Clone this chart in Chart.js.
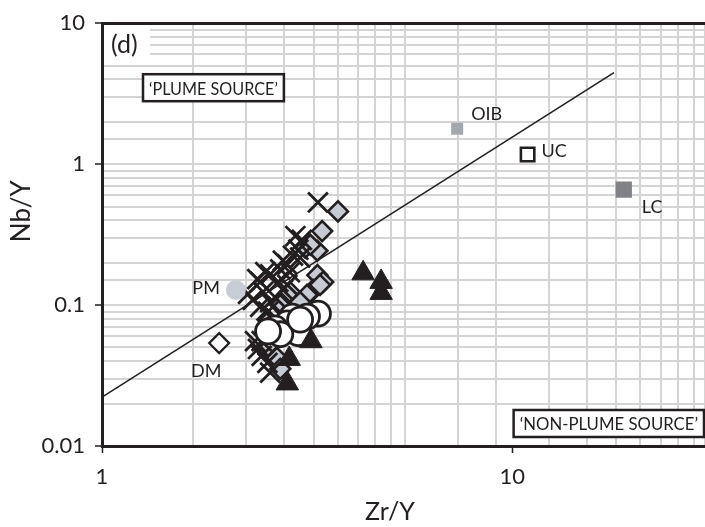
<!DOCTYPE html>
<html>
<head>
<meta charset="utf-8">
<script src="https://cdn.jsdelivr.net/npm/chart.js@4/dist/chart.umd.min.js"></script>
<style>html,body{margin:0;padding:0;background:#fff;overflow:hidden}</style>
</head>
<body>
<canvas id="chart" width="705" height="527"></canvas>
<script>
// samples: Zr/Y vs Nb/Y, one pair of arrays per symbol
var crossZr = [3.36,2.96,3.07,3.04,2.92,2.83,3.01,2.72,2.57,2.43,2.50,2.69,2.83,2.47,2.33,2.39,2.27,2.57,2.43,2.64,2.76,2.36,2.40,2.45,2.53,2.57,2.45,2.87,2.76,2.54,2.64];
var crossNb = [0.535,0.309,0.290,0.217,0.224,0.194,0.247,0.179,0.165,0.146,0.171,0.146,0.139,0.124,0.109,0.153,0.120,0.105,0.0973,0.114,0.128,0.0554,0.0488,0.0436,0.0389,0.0332,0.0554,0.171,0.207,0.0898,0.0789];

var diamondZr = [3.76,3.44,3.13,3.35,3.22,3.35,3.46,3.27,3.16,2.87,2.72,2.53,3.40,2.67,2.72,3.04,2.54];
var diamondNb = [0.462,0.335,0.255,0.243,0.268,0.163,0.146,0.128,0.118,0.124,0.100,0.0789,0.139,0.0422,0.0353,0.105,0.0512];

var circleZr = [3.36,3.16,2.91,2.83,2.64,3.01,2.72,2.54,3.04];
var circleNb = [0.0869,0.0828,0.0828,0.0741,0.0684,0.0631,0.0621,0.0651,0.0789];

var triangleZr = [4.33,4.79,4.79,3.23,2.86,2.83];
var triangleNb = [0.168,0.146,0.122,0.0554,0.0415,0.0278];

// reference compositions
var refNames = ['PM','DM','OIB','UC','LC'];
var refZr = [2.12,1.93,7.34,10.9,18.7];
var refNb = [0.128,0.0537,1.78,1.17,0.659];

// plume / non-plume divide
var divideZr = [1,17.7];
var divideNb = [0.0222,4.46];

var yTickLabels = ['0.01','0.1','1','10'];
var xTickLabels = ['1','10'];

var ink = '#231f20';
var gridColor = '#d4d4d4';
var fontFamily = 'Lato';

function pts(xs, ys) {
    return xs.map(function(x, i) { return {x: x, y: ys[i]}; });
}

function isDecade(v) {
    var l = Math.log10(v);
    return Math.abs(l - Math.round(l)) < 1e-6;
}

function tickText(list) {
    return function(v) {
        var s = String(Number(v.toPrecision(6)));
        return list.indexOf(s) >= 0 ? s : '';
    };
}

function decadeTickColor(c) {
    return c.tick && isDecade(c.tick.value) ? ink : 'rgba(0,0,0,0)';
}

// label offsets for the reference points [dx, dy, align]
var refLabelPos = {
    PM: [-16, -2, 'right'],
    DM: [-13, 28, 'center'],
    OIB: [14, -15, 'left'],
    UC: [14, -3, 'left'],
    LC: [18, 18, 'left']
};

function drawBox(ctx, text, x, y, alignRight, squeeze) {
    ctx.save();
    ctx.font = '18px ' + fontFamily;
    var w = ctx.measureText(text).width * squeeze + 12;
    var h = 27;
    var left = alignRight ? x - w : x;
    ctx.fillStyle = '#fff';
    ctx.fillRect(left, y, w, h);
    ctx.lineWidth = 2.5;
    ctx.strokeStyle = ink;
    ctx.strokeRect(left, y, w, h);
    ctx.translate(left + 6, y + h / 2 + 1);
    ctx.scale(squeeze, 1);
    ctx.fillStyle = ink;
    ctx.textAlign = 'left';
    ctx.textBaseline = 'middle';
    ctx.fillText(text, 0, 0);
    ctx.restore();
}

var annotations = {
    id: 'annotations',
    beforeDatasetsDraw: function(chart) {
        var ctx = chart.ctx, a = chart.chartArea, xs = chart.scales.x;
        ctx.save();
        ctx.fillStyle = '#fff';
        ctx.fillRect(a.left + 2, a.top + 3, 46, 38);
        ctx.fillStyle = ink;
        ctx.font = '25px ' + fontFamily;
        ctx.textBaseline = 'middle';
        ctx.textAlign = 'left';
        ctx.fillText('(d)', a.left + 9, a.top + 22);
        drawBox(ctx, '\u2018PLUME SOURCE\u2019', a.left + 41, a.top + 51, false, 0.9);
        drawBox(ctx, '\u2018NON-PLUME SOURCE\u2019', a.right - 1, a.bottom - 36, true, 0.93);
        ctx.fillStyle = ink;
        // x tick labels
        ctx.font = '22px ' + fontFamily;
        ctx.textAlign = 'center';
        ctx.textBaseline = 'top';
        xTickLabels.forEach(function(t) {
            ctx.fillText(t, xs.getPixelForValue(Number(t)), xs.top + 20);
        });
        // axis titles
        ctx.textBaseline = 'middle';
        ctx.font = '25px ' + fontFamily;
        ctx.fillText('Zr/Y', a.left + 288, xs.bottom - 15);
        ctx.translate(22, a.top + 188);
        ctx.rotate(-Math.PI / 2);
        ctx.font = '26px ' + fontFamily;
        ctx.fillText('Nb/Y', 0, 0);
        ctx.restore();
    },
    afterDatasetsDraw: function(chart) {
        var ctx = chart.ctx, xs = chart.scales.x, ys = chart.scales.y;
        ctx.save();
        ctx.fillStyle = ink;
        ctx.font = '18px ' + fontFamily;
        ctx.textBaseline = 'middle';
        refNames.forEach(function(name, i) {
            var p = refLabelPos[name];
            ctx.textAlign = p[2];
            ctx.fillText(name, xs.getPixelForValue(refZr[i]) + p[0], ys.getPixelForValue(refNb[i]) + p[1]);
        });
        ctx.restore();
    }
};

var ctx = document.getElementById('chart').getContext('2d');
var chart = new Chart(ctx, {
    type: 'scatter',
    data: {
        datasets: [
            {
                type: 'line', data: pts(divideZr, divideNb),
                borderColor: ink, borderWidth: 1.6, pointRadius: 0, fill: false, order: 9
            },
            {
                data: pts(diamondZr, diamondNb), pointStyle: 'rectRot', pointRadius: 10,
                backgroundColor: '#c6cad2', borderColor: ink, borderWidth: 2.6, order: 8
            },
            {
                data: pts(crossZr, crossNb), pointStyle: 'crossRot', pointRadius: 14,
                borderColor: ink, borderWidth: 2.8, order: 7
            },
            {
                data: pts(circleZr, circleNb), pointStyle: 'circle', pointRadius: 12.5,
                backgroundColor: '#fff', borderColor: ink, borderWidth: 2.8, order: 6
            },
            {
                data: pts(triangleZr, triangleNb), pointStyle: 'triangle', pointRadius: 13,
                backgroundColor: ink, borderColor: ink, borderWidth: 1, order: 5
            },
            // reference points
            {
                data: pts(refZr.slice(0, 1), refNb.slice(0, 1)), pointStyle: 'circle', pointRadius: 10,
                backgroundColor: '#c8ccd4', borderWidth: 0, order: 4
            },
            {
                data: pts(refZr.slice(1, 2), refNb.slice(1, 2)), pointStyle: 'rectRot', pointRadius: 10,
                backgroundColor: '#fff', borderColor: ink, borderWidth: 2.2, order: 4
            },
            {
                data: pts(refZr.slice(2, 3), refNb.slice(2, 3)), pointStyle: 'rect', pointRadius: 8.5,
                backgroundColor: '#a3a7ae', borderWidth: 0, order: 4
            },
            {
                data: pts(refZr.slice(3, 4), refNb.slice(3, 4)), pointStyle: 'rect', pointRadius: 9.5,
                backgroundColor: '#fff', borderColor: ink, borderWidth: 2.6, order: 4
            },
            {
                data: pts(refZr.slice(4, 5), refNb.slice(4, 5)), pointStyle: 'rect', pointRadius: 11.5,
                backgroundColor: '#808285', borderWidth: 0, order: 4
            }
        ]
    },
    options: {
        responsive: false,
        animation: false,
        devicePixelRatio: 1,
        layout: { autoPadding: false, padding: { top: 16, right: 0, left: 0, bottom: 0 } },
        plugins: { legend: { display: false }, tooltip: { enabled: false } },
        scales: {
            x: {
                type: 'logarithmic', position: 'bottom', min: 1, max: 29.5,
                afterFit: function(s) { s.height = 81; },
                border: { display: true, color: ink, width: 3 },
                grid: { drawOnChartArea: false, tickLength: 7, tickWidth: 1.5, tickColor: decadeTickColor },
                ticks: { display: false }
            },
            x2: {
                type: 'logarithmic', position: 'top', min: 1, max: 98,
                afterFit: function(s) { s.height = 0; },
                border: { display: true, color: ink, width: 3 },
                grid: { color: gridColor, lineWidth: 2, drawTicks: false },
                ticks: { display: false }
            },
            y: {
                type: 'logarithmic', position: 'left', min: 0.01, max: 10,
                afterFit: function(s) { s.width = 102; },
                border: { display: true, color: ink, width: 3 },
                grid: { color: gridColor, lineWidth: 2, tickLength: 7, tickWidth: 1.5, tickColor: decadeTickColor },
                ticks: {
                    autoSkip: false, padding: 10, color: ink,
                    font: { family: fontFamily, size: 22 }, callback: tickText(yTickLabels)
                }
            }
        }
    },
    plugins: [annotations]
});
</script>
</body>
</html>
